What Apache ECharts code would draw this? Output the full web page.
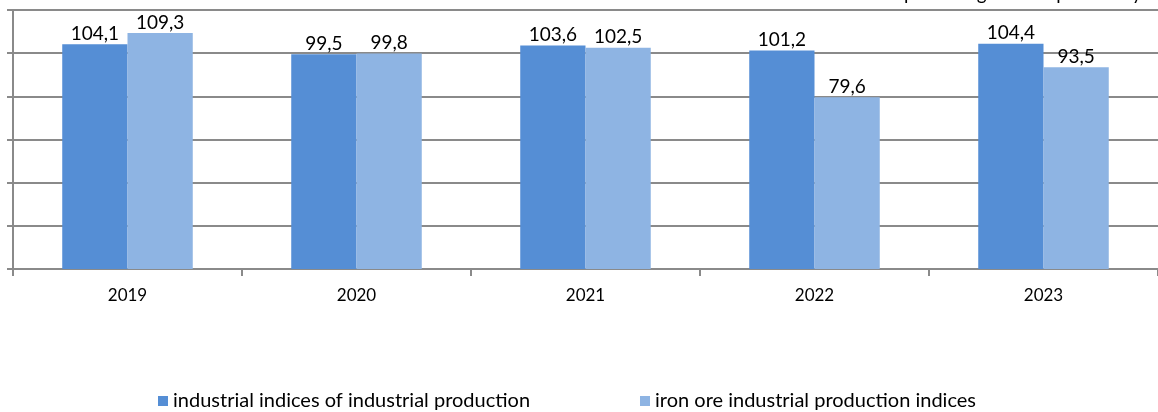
<!DOCTYPE html>
<html>
<head>
<meta charset="utf-8">
<script src="https://cdn.jsdelivr.net/npm/echarts@6/dist/echarts.min.js"></script>
<style>
  html, body { margin: 0; padding: 0; background: #fff; }
  #chart { width: 1158px; height: 412px; }
</style>
</head>
<body>
<div id="chart"></div>
<script>
var years = ["2019", "2020", "2021", "2022", "2023"];
var industrial = [104.1, 99.5, 103.6, 101.2, 104.4];
var ironOre = [109.3, 99.8, 102.5, 79.6, 93.5];
var seriesNames = ["industrial indices of industrial production", "iron ore industrial production indices"];

var myChart = echarts.init(document.getElementById("chart"));
var font = "Lato, 'Open Sans', sans-serif";

function comma(p) {
  return p.value.toFixed(1).replace(".", ",");
}

var legendBase = {
  top: 391,
  padding: 0,
  itemWidth: 10,
  itemHeight: 10,
  icon: "rect",
  textStyle: { fontSize: 20, color: "#000", fontFamily: font }
};

var option = {
  animation: false,
  textStyle: { fontFamily: font },
  graphic: [
    {
      type: "text",
      x: 904,
      y: 3,
      style: {
        text: "percentage to the previous year",
        font: "19px " + font,
        fill: "#000",
        verticalAlign: "bottom"
      }
    }
  ],
  legend: [
    Object.assign({ left: 158, data: [seriesNames[0]] }, legendBase),
    Object.assign({ left: 640, data: [seriesNames[1]] }, legendBase)
  ],
  grid: { left: 13, right: 0, top: 10, bottom: 143 },
  xAxis: {
    type: "category",
    data: years,
    axisLine: { lineStyle: { color: "#8a8a8a", width: 2 } },
    axisTick: { show: true, length: 7, lineStyle: { color: "#8a8a8a", width: 2 } },
    axisLabel: { fontSize: 17, color: "#000", margin: 18, fontFamily: font }
  },
  yAxis: {
    type: "value",
    min: 0,
    max: 120,
    interval: 20,
    axisLine: { show: true, lineStyle: { color: "#8a8a8a", width: 2 } },
    axisTick: { show: true, length: 6, lineStyle: { color: "#8a8a8a", width: 2 } },
    axisLabel: { show: false },
    splitLine: { lineStyle: { color: "#8a8a8a", width: 2 } }
  },
  series: [
    {
      name: seriesNames[0],
      type: "bar",
      data: industrial,
      barGap: "0%",
      barCategoryGap: "43%",
      itemStyle: { color: "#558ed5" },
      label: { show: true, position: "top", distance: 1, fontSize: 19, color: "#000", fontFamily: font, formatter: comma }
    },
    {
      name: seriesNames[1],
      type: "bar",
      data: ironOre,
      itemStyle: { color: "#8eb4e3" },
      label: { show: true, position: "top", distance: 1, fontSize: 19, color: "#000", fontFamily: font, formatter: comma }
    }
  ]
};
myChart.setOption(option);
window.onresize = myChart.resize;
</script>
</body>
</html>
